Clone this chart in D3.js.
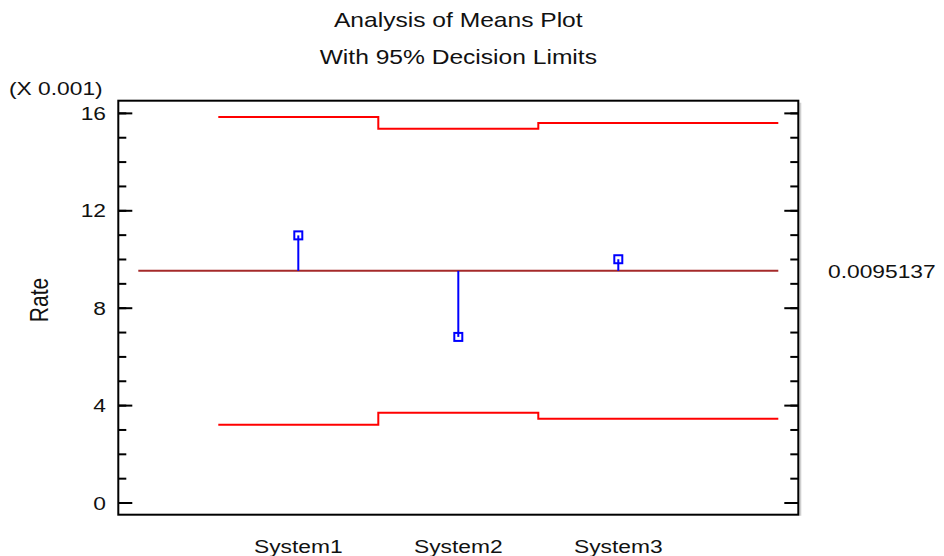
<!DOCTYPE html>
<html>
<head>
<meta charset="utf-8">
<script src="https://cdn.jsdelivr.net/npm/d3@7"></script>
<style>
  html, body { margin: 0; padding: 0; background: #fff; }
  svg { display: block; }
  text { font-family: Arial, "Liberation Sans", sans-serif; fill: #111; }
</style>
</head>
<body>
<svg id="chart" width="944" height="556"></svg>
<script>
// Group means of the failure rate and the ANOM decision limits
const categories = ["System1", "System2", "System3"];
const groupMeans = [0.01097, 0.00680, 0.00999];
const grandMean = 0.0095137;
const upperLimits = [0.015835, 0.015345, 0.015585];
const lowerLimits = [0.003192, 0.003682, 0.003442];
// x positions (in category units) where each limit step begins/ends
const stepEdges = [0.5, 1.5, 2.5, 4.0];
const centerSpan = [0, 4];
const yMajorTicks = [0, 0.004, 0.008, 0.012, 0.016];
const yMinorTicks = d3.range(0, 17).map(d => d / 1000);
const yTickLabels = ["0", "4", "8", "12", "16"];
const titleLines = ["Analysis of Means Plot", "With 95% Decision Limits"];
const yAxisTitle = "Rate";
const multiplierLabel = "(X 0.001)";

const svg = d3.select("#chart");
const plot = { left: 118.3, right: 798.3, top: 100.7, bottom: 514.7 };
const fontSize = 19;
const stretch = 1.2;   // horizontal stretch of all lettering

const x = d3.scaleLinear().domain([-0.125, 4.125]).range([plot.left, plot.right]);
const y = d3.scaleLinear().domain([-0.0005, 0.0165]).range([plot.bottom, plot.top]);

function label(px, py, str, anchor, opts = {}) {
  return svg.append("text")
    .attr("transform", `translate(${px},${py}) scale(${stretch},1)` + (opts.rotate ? ` rotate(${opts.rotate})` : ""))
    .attr("text-anchor", anchor)
    .style("font-size", (opts.size || fontSize) + "px")
    .text(str);
}

// frame shadow on the right
svg.append("line")
  .attr("x1", plot.right + 2).attr("x2", plot.right + 2)
  .attr("y1", plot.top + 2).attr("y2", plot.bottom + 1)
  .attr("stroke", "#cfcfcf").attr("stroke-width", 2);

// ticks on left and right, pointing inward
const axG = svg.append("g");
axG.append("g").attr("transform", `translate(${plot.left},0)`)
  .call(d3.axisLeft(y).tickValues(yMinorTicks).tickSize(-8).tickFormat(""));
axG.append("g").attr("transform", `translate(${plot.left},0)`)
  .call(d3.axisLeft(y).tickValues(yMajorTicks).tickSize(-14).tickFormat(""));
axG.append("g").attr("transform", `translate(${plot.right},0)`)
  .call(d3.axisRight(y).tickValues(yMinorTicks).tickSize(-8).tickFormat(""));
axG.append("g").attr("transform", `translate(${plot.right},0)`)
  .call(d3.axisRight(y).tickValues(yMajorTicks).tickSize(-14).tickFormat(""));
axG.selectAll(".domain").remove();
axG.selectAll(".tick line").attr("stroke", "#000").attr("stroke-width", 2);

// plot frame
svg.append("rect")
  .attr("x", plot.left).attr("y", plot.top)
  .attr("width", plot.right - plot.left).attr("height", plot.bottom - plot.top)
  .attr("fill", "none").attr("stroke", "#000").attr("stroke-width", 2);

// tick labels
yMajorTicks.forEach((v, i) => label(106, y(v) + 7, yTickLabels[i], "end"));
label(9, 95, multiplierLabel, "start");

// category labels
categories.forEach((c, i) => label(x(i + 1), 553, c, "middle"));

// titles
label((plot.left + plot.right) / 2, 27, titleLines[0], "middle", { size: 20.5 });
label((plot.left + plot.right) / 2, 64, titleLines[1], "middle", { size: 20.5 });
label(48, 300, yAxisTitle, "middle", { rotate: -90, size: 21 });

// decision limits as step lines
function stepPath(vals) {
  const pts = [];
  vals.forEach((v, i) => {
    pts.push([x(stepEdges[i]), y(v)]);
    pts.push([x(stepEdges[i + 1]), y(v)]);
  });
  return d3.line()(pts);
}
[upperLimits, lowerLimits].forEach(vals => {
  svg.append("path").attr("d", stepPath(vals))
    .attr("fill", "none").attr("stroke", "#ff0000").attr("stroke-width", 2);
});

// centre line
svg.append("line")
  .attr("x1", x(centerSpan[0])).attr("x2", x(centerSpan[1]))
  .attr("y1", y(grandMean)).attr("y2", y(grandMean))
  .attr("stroke", "#a52a2a").attr("stroke-width", 2);
label(828, y(grandMean) + 7, String(grandMean), "start");

// stems and mean markers
svg.selectAll(".stem").data(groupMeans).enter().append("line")
  .attr("class", "stem")
  .attr("x1", (d, i) => x(i + 1)).attr("x2", (d, i) => x(i + 1))
  .attr("y1", y(grandMean)).attr("y2", d => y(d))
  .attr("stroke", "#0000ff").attr("stroke-width", 2);
svg.selectAll(".pt").data(groupMeans).enter().append("rect")
  .attr("class", "pt")
  .attr("x", (d, i) => x(i + 1) - 4).attr("y", d => y(d) - 4)
  .attr("width", 8).attr("height", 8)
  .attr("fill", "none").attr("stroke", "#0000ff").attr("stroke-width", 2);
</script>
</body>
</html>
